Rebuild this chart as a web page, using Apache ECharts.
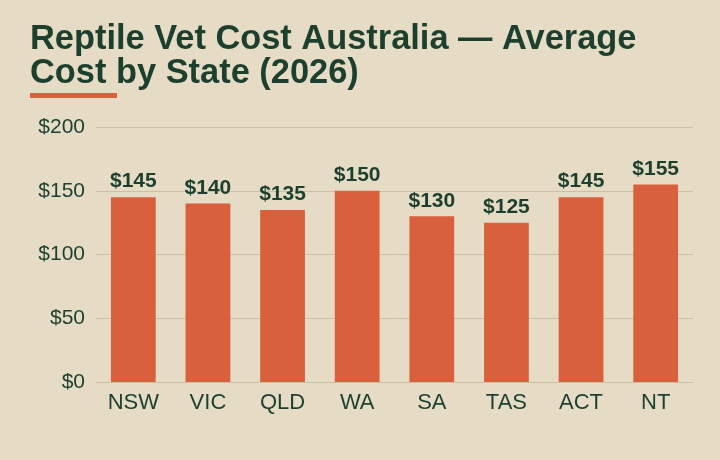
<!DOCTYPE html>
<html>
<head>
<meta charset="utf-8">
<script src="https://cdn.jsdelivr.net/npm/echarts@6/dist/echarts.min.js"></script>
<style>
  html, body { margin: 0; padding: 0; background: #e6dcc6; }
  #chart { width: 720px; height: 460px; }
</style>
</head>
<body>
<div id="chart"></div>
<script>
var states = ['NSW', 'VIC', 'QLD', 'WA', 'SA', 'TAS', 'ACT', 'NT'];
var costs = [145, 140, 135, 150, 130, 125, 145, 155];

var green = '#1c3f2e';
var orange = '#d9603c';

var chart = echarts.init(document.getElementById('chart'));

chart.setOption({
    backgroundColor: '#e6dcc6',
    animation: false,
    title: {
        text: 'Reptile Vet Cost Australia \u2014 Average\nCost by State (2026)',
        left: 30,
        top: 23,
        padding: 0,
        textStyle: {
            fontFamily: 'Liberation Sans',
            fontWeight: 'bold',
            fontSize: 34.4,
            lineHeight: 34,
            color: green
        }
    },
    graphic: [{
        type: 'rect',
        shape: { x: 30, y: 93, width: 87, height: 5 },
        style: { fill: orange }
    }],
    grid: {
        left: 96,
        right: 27,
        top: 127,
        bottom: 78
    },
    xAxis: {
        type: 'category',
        data: states,
        axisTick: { show: false },
        axisLine: { show: true, lineStyle: { color: '#cbbfa6', width: 1 } },
        axisLabel: {
            fontFamily: 'Liberation Sans',
            fontSize: 22,
            color: green,
            margin: 10
        }
    },
    yAxis: {
        type: 'value',
        min: 0,
        max: 200,
        interval: 50,
        axisLine: { show: false },
        axisTick: { show: false },
        splitLine: { lineStyle: { color: '#cbbfa6', width: 1 } },
        axisLabel: {
            formatter: '${value}',
            fontFamily: 'Liberation Sans',
            fontSize: 21,
            color: green,
            margin: 11
        }
    },
    series: [{
        type: 'bar',
        data: costs,
        barWidth: '60%',
        itemStyle: { color: orange },
        label: {
            show: true,
            position: 'top',
            distance: 5,
            formatter: '${c}',
            fontFamily: 'Liberation Sans',
            fontWeight: 'bold',
            fontSize: 21,
            color: green
        }
    }]
});
</script>
</body>
</html>
